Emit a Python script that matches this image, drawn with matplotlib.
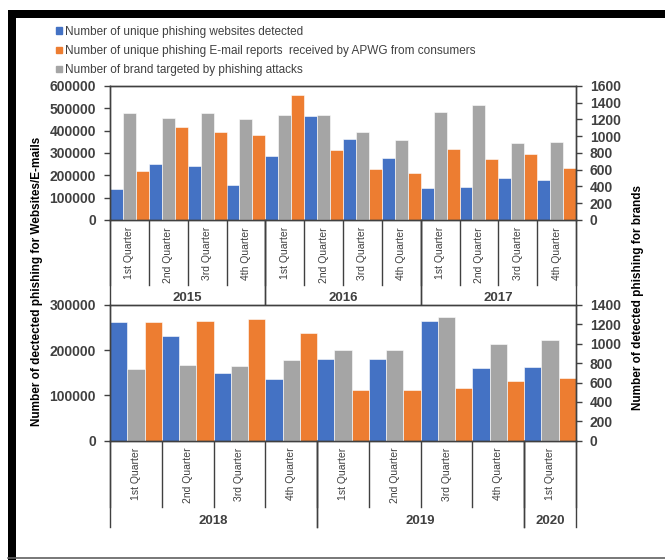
import numpy as np
import matplotlib.pyplot as plt
from matplotlib.patches import Patch, Rectangle
from matplotlib.lines import Line2D

plt.rcParams['font.family'] = ['Liberation Sans', 'DejaVu Sans']

BLUE = '#4472C4'
ORANGE = '#ED7D31'
GRAY = '#A5A5A5'
DARK = '#404040'

# 2015-2017
top_quarters = ['1st Quarter', '2nd Quarter', '3rd Quarter', '4th Quarter'] * 3
top_years = ['2015', '2016', '2017']
top_year_len = [4, 4, 4]
top_websites = [137000, 251000, 240000, 157000, 287000, 464000,
                363000, 276000, 145000, 146000, 190000, 181000]
top_emails = [221000, 416000, 394000, 381000, 558000, 313000,
              228000, 209000, 318000, 273000, 296000, 233000]
top_brands = [1274, 1214, 1274, 1202, 1254, 1254, 1055, 951, 1290, 1369, 915, 935]

# 2018-2020
bot_quarters = ['1st Quarter', '2nd Quarter', '3rd Quarter', '4th Quarter',
                '1st Quarter', '2nd Quarter', '3rd Quarter', '4th Quarter',
                '1st Quarter']
bot_years = ['2018', '2019', '2020']
bot_year_len = [4, 4, 1]
bot_websites = [262000, 232000, 149000, 137000, 180000, 181000, 265000, 160000, 163000]
bot_emails = [262000, 264000, 270000, 239000, 111000, 111000, 117000, 132000, 138000]
bot_brands = [738, 780, 773, 831, 938, 931, 1279, 993, 1041]

W, H = 665, 560
fig = plt.figure(figsize=(W / 100, H / 100), dpi=100)


def px_axes(x0, y0, x1, y1):
    return fig.add_axes([x0 / W, 1 - y1 / H, (x1 - x0) / W, (y1 - y0) / H])


def panel(ax, quarters, years, year_len, web, mail, brands,
          lmax, lstep, rmax, rstep, sep_q, sep_y, lab_y, year_y):
    n = len(quarters)
    x = np.arange(n)
    w = 1 / 3
    ax2 = ax.twinx()
    ax.bar(x - w, web, w, color=BLUE, edgecolor='white', linewidth=0.4)
    ax.bar(x + w, mail, w, color=ORANGE, edgecolor='white', linewidth=0.4)
    ax2.bar(x, brands, w, color=GRAY, edgecolor='white', linewidth=0.4)
    for a in (ax, ax2):
        a.set_xlim(-0.5, n - 0.5)
        a.set_xticks([])
        for s in a.spines.values():
            s.set_color(DARK)
            s.set_linewidth(1.0)
    ax.set_ylim(0, lmax)
    ax.set_yticks(np.arange(0, lmax + 1, lstep))
    ax2.set_ylim(0, rmax)
    ax2.set_yticks(np.arange(0, rmax + 1, rstep))
    ax.tick_params(axis='y', length=4, width=1, color=DARK, pad=6,
                   labelsize=10, labelcolor=DARK)
    ax2.tick_params(axis='y', length=4, width=1, color=DARK, pad=6,
                    labelsize=10, labelcolor=DARK)
    for t in ax.get_yticklabels() + ax2.get_yticklabels():
        t.set_fontweight('bold')

    # category axis: quarter cells and year cells
    tr = ax.transAxes
    for i in range(n + 1):
        ax.add_line(Line2D([i / n, i / n], [0, sep_q], transform=tr,
                           color=DARK, lw=1.0, clip_on=False))
    for i, q in enumerate(quarters):
        ax.text((i + 0.5) / n, lab_y, q, transform=tr, rotation=90,
                ha='center', va='top', fontsize=7.5, color=DARK)
    start = 0
    for yr, ln in zip(years, year_len):
        for b in (start, start + ln):
            ax.add_line(Line2D([b / n, b / n], [0, sep_y], transform=tr,
                               color=DARK, lw=1.0, clip_on=False))
        ax.text((start + ln / 2) / n, year_y, yr, transform=tr,
                ha='center', va='center', fontsize=9.5, fontweight='bold',
                color=DARK)
        start += ln
    return ax2


ax_top = px_axes(110, 86, 576, 220)
panel(ax_top, top_quarters, top_years, top_year_len,
      top_websites, top_emails, top_brands,
      600000, 100000, 1600, 200,
      sep_q=-65 / 134, sep_y=-85 / 134, lab_y=-7 / 134, year_y=-78 / 134)

ax_bot = px_axes(110, 305, 576, 440.7)
panel(ax_bot, bot_quarters, bot_years, bot_year_len,
      bot_websites, bot_emails, bot_brands,
      300000, 100000, 1400, 200,
      sep_q=-66 / 135.7, sep_y=-86 / 135.7, lab_y=-7 / 135.7, year_y=-80 / 135.7)

fig.text(37 / W, 1 - 281 / H, 'Number of dectected phishing for Websites/E-mails',
         rotation=90, ha='center', va='center', fontsize=8.5,
         fontweight='bold', color='black')
fig.text(638 / W, 1 - 297 / H, 'Number of detected phishing for brands',
         rotation=90, ha='center', va='center', fontsize=8.5,
         fontweight='bold', color='black')

handles = [Patch(color=BLUE), Patch(color=ORANGE), Patch(color=GRAY)]
labels = ['Number of unique phishing websites detected',
          'Number of unique phishing E-mail reports  received by APWG from consumers',
          'Number of brand targeted by phishing attacks']
fig.legend(handles, labels, loc='upper left', bbox_to_anchor=(56 / W, 1 - 26 / H),
           frameon=False, fontsize=8.5, handlelength=0.5, handleheight=0.5,
           handletextpad=0.3, labelspacing=0.6, labelcolor=DARK,
           borderpad=0, borderaxespad=0)

# outer frame
fig.add_artist(Rectangle((8 / W, 1 - 18 / H), 1, 8 / H, transform=fig.transFigure,
                         color='black', lw=0))
fig.add_artist(Rectangle((8 / W, 0), 8 / W, 1 - 10 / H, transform=fig.transFigure,
                         color='black', lw=0))
fig.add_artist(Line2D([8 / W, 1], [1 - 558 / H, 1 - 558 / H], transform=fig.transFigure,
                      color='#606060', lw=1.2))

fig.savefig('out.png', dpi=100)
